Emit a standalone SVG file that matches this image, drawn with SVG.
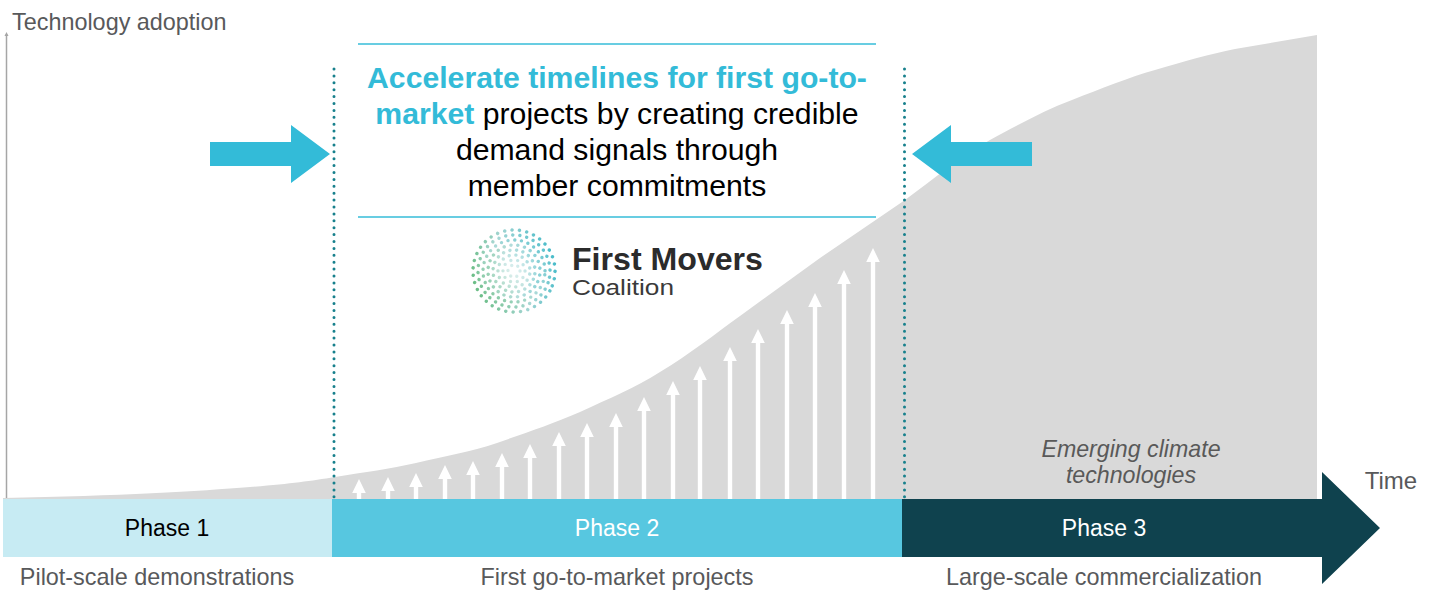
<svg xmlns="http://www.w3.org/2000/svg" width="1432" height="590" viewBox="0 0 1432 590">
<style>
text{font-family:"Liberation Sans",Arial,sans-serif}
.lbl{font-size:23.400px;fill:#58595b;text-anchor:middle}
.ph{font-size:23px;text-anchor:middle}
.head{font-size:30.200px;text-anchor:middle;fill:#000}
.acc{font-weight:bold;fill:#33bbd8}
.em{font-size:23.200px;font-style:italic;fill:#595959;text-anchor:middle}
.dot{fill:none;stroke:#17808c;stroke-width:3;stroke-linecap:round;stroke-dasharray:0 6.900}
.rule{stroke:#36bcd8;stroke-width:1.600}
.up{fill:#fff}
.ring{fill:none;stroke:url(#lg);stroke-width:3.400;stroke-linecap:round}
</style>
<defs>
<linearGradient id="lg" gradientUnits="userSpaceOnUse" x1="550" y1="235" x2="480" y2="310">
<stop offset="0" stop-color="#2fb4c6"/><stop offset="0.5" stop-color="#9fd3d0"/><stop offset="1" stop-color="#58b56e"/>
</linearGradient>
<radialGradient id="fade" gradientUnits="userSpaceOnUse" cx="514" cy="271" r="44">
<stop offset="0" stop-color="#fff" stop-opacity="0.7"/><stop offset="0.55" stop-color="#fff" stop-opacity="0.25"/><stop offset="1" stop-color="#fff" stop-opacity="0"/>
</radialGradient>
</defs>

<g id="curve"><path d="M3 498C120 496 200 491 250 487C290 484 310 481 335 477C365 472 390 469 416 463C445 456 470 452 497 443C525 433 550 425 580 412C610 398 635 388 660 372C690 354 715 334 740 316L820 258L905 200C935 178 960 157 990 140C1020 124 1045 110 1072 100C1100 89 1130 77 1155 70C1185 61 1210 54 1235 49L1317 35V499H3Z" fill="#d9d9d9"/></g>

<g id="axis"><path d="M6.500 498V34" stroke="#a6a6a6" stroke-width="1.500" fill="none"/><path d="M6.500 32l2 4h-4z" fill="#a6a6a6"/>
<text x="12" y="30" font-size="23.400" fill="#58595b">Technology adoption</text></g>

<g id="growth-arrows" class="up">
<path d="M359 479l6.800 14h-4.600v6h-4.400v-6h-4.600z"/>
<path d="M388 477l6.800 14h-4.600v8h-4.400v-8h-4.600z"/>
<path d="M416 473l6.800 14h-4.600v12h-4.400v-12h-4.600z"/>
<path d="M445 465l6.800 14h-4.600v20h-4.400v-20h-4.600z"/>
<path d="M473 461l6.800 14h-4.600v24h-4.400v-24h-4.600z"/>
<path d="M502 453l6.800 14h-4.600v32h-4.400v-32h-4.600z"/>
<path d="M530 444l6.800 14h-4.600v41h-4.400v-41h-4.600z"/>
<path d="M559 432l6.800 14h-4.600v53h-4.400v-53h-4.600z"/>
<path d="M587 423l6.800 14h-4.600v62h-4.400v-62h-4.600z"/>
<path d="M616 413l6.800 14h-4.600v72h-4.400v-72h-4.600z"/>
<path d="M644 397l6.800 14h-4.600v88h-4.400v-88h-4.600z"/>
<path d="M673 381l6.800 14h-4.600v104h-4.400v-104h-4.600z"/>
<path d="M700 366l6.800 14h-4.600v119h-4.400v-119h-4.600z"/>
<path d="M730 347l6.800 14h-4.600v138h-4.400v-138h-4.600z"/>
<path d="M758 329l6.800 14h-4.600v156h-4.400v-156h-4.600z"/>
<path d="M787 310l6.800 14h-4.600v175h-4.400v-175h-4.600z"/>
<path d="M815 293l6.800 14h-4.600v192h-4.400v-192h-4.600z"/>
<path d="M844 270l6.800 14h-4.600v215h-4.400v-215h-4.600z"/>
<path d="M873 248l6.800 14h-4.600v237h-4.400v-237h-4.600z"/>
</g>

<g id="dividers"><path class="dot" d="M334 69V498"/><path class="dot" d="M904.500 69V498"/></g>

<g id="headline">
<line class="rule" x1="358" y1="44" x2="876" y2="44"/>
<line class="rule" x1="358" y1="217" x2="876" y2="217"/>
<text class="head" x="617" y="88"><tspan class="acc">Accelerate timelines for first go-to-</tspan></text>
<text class="head" x="617" y="124"><tspan class="acc">market</tspan> projects by creating credible</text>
<text class="head" x="617" y="160">demand signals through</text>
<text class="head" x="617" y="196">member commitments</text>
</g>

<g id="arrow-left"><path d="M210 142H291V125L330 154L291 183V166H210Z" fill="#33bbd8"/></g>
<g id="arrow-right"><path d="M1032 142H951V125L912 154L951 183V166H1032Z" fill="#33bbd8"/></g>

<g id="logo">
<g class="ring">
<circle cx="514" cy="271" r="6" stroke-dasharray="0 6.300"/>
<circle cx="514" cy="271" r="11" stroke-dasharray="0 6.900"/>
<circle cx="514" cy="271" r="16" stroke-dasharray="0 6.700" transform="rotate(11 514 271)"/>
<circle cx="514" cy="271" r="21" stroke-dasharray="0 6.600" transform="rotate(23 514 271)"/>
<circle cx="514" cy="271" r="26" stroke-dasharray="0 6.800" transform="rotate(37 514 271)"/>
<circle cx="514" cy="271" r="31" stroke-dasharray="0 6.800" transform="rotate(7 514 271)"/>
<circle cx="514" cy="271" r="36" stroke-dasharray="0 7.100" transform="rotate(19 514 271)"/>
<circle cx="514" cy="271" r="41" stroke-dasharray="0 7.400" transform="rotate(29 514 271)"/>
</g>
<circle cx="514" cy="271" r="44" fill="url(#fade)"/>
<text x="572" y="270" font-size="30.500" font-weight="bold" fill="#2b2b2b" textLength="191" lengthAdjust="spacingAndGlyphs">First Movers</text>
<text x="572" y="295" font-size="22.500" fill="#3a3a3a" textLength="102" lengthAdjust="spacingAndGlyphs">Coalition</text>
</g>

<g id="emerging"><text class="em" x="1131" y="457">Emerging climate</text><text class="em" x="1131" y="483">technologies</text></g>

<g id="phase-1"><rect x="3" y="499" width="329" height="58" fill="#c7ebf3"/><text class="ph" x="167" y="536" fill="#000">Phase 1</text><text class="lbl" x="157" y="584.500">Pilot-scale demonstrations</text></g>
<g id="phase-2"><rect x="332" y="499" width="570" height="58" fill="#57c7e0"/><text class="ph" x="617" y="536" fill="#fff">Phase 2</text><text class="lbl" x="617" y="584.500">First go-to-market projects</text></g>
<g id="phase-3"><path d="M902 499H1322V472L1380 528L1322 584V557H902Z" fill="#0f424e"/><text class="ph" x="1104" y="536" fill="#fff">Phase 3</text><text class="lbl" x="1104" y="584.500">Large-scale commercialization</text></g>
<g id="time"><text x="1391" y="489" font-size="24" fill="#58595b" text-anchor="middle">Time</text></g>
</svg>
